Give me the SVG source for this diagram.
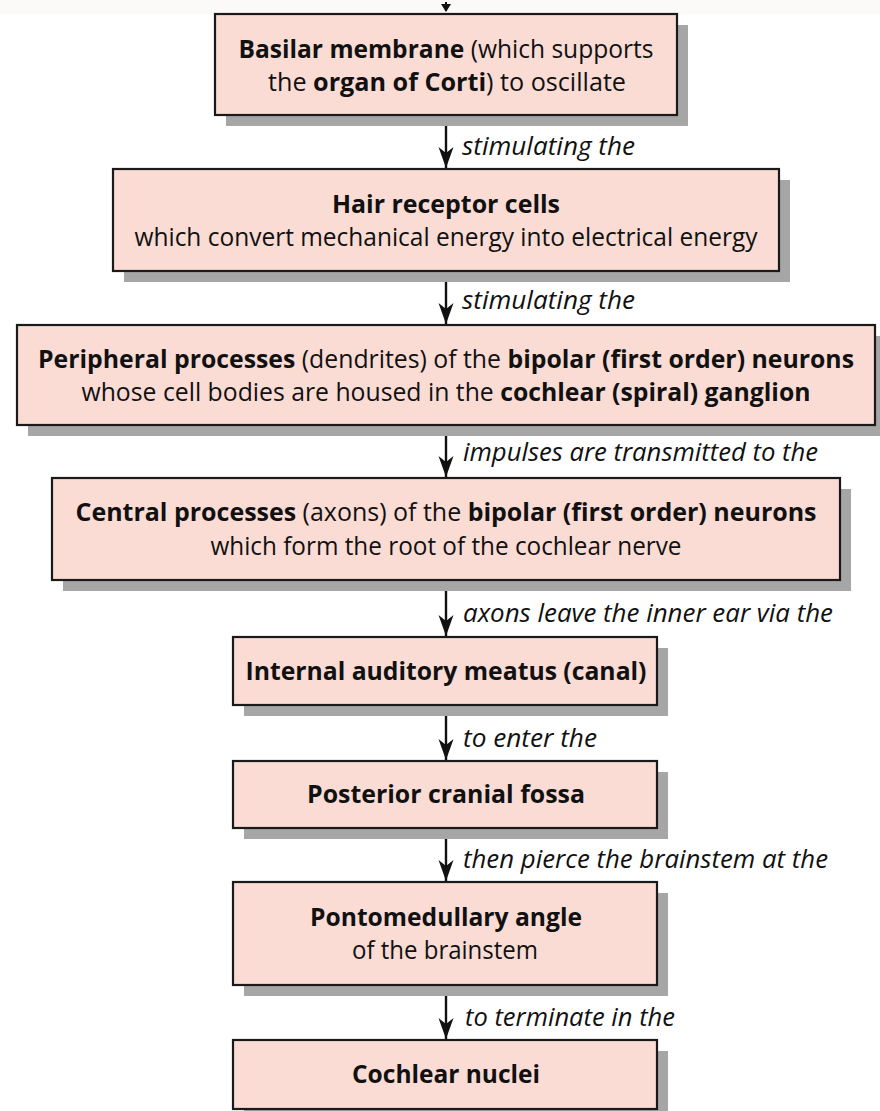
<svg xmlns="http://www.w3.org/2000/svg" width="880" height="1111" viewBox="0 0 880 1111">
  <style>
    .shadow { fill: #a6a6a6; }
    .box { fill: #fadcd5; stroke: #1a1a1a; stroke-width: 2.2; }
    .t { font-family: "Open Sans", Lato, sans-serif; font-size: 25.5px; fill: #111; text-anchor: middle; }
    .b { font-weight: bold; }
    .lbl { font-family: "Open Sans", Lato, sans-serif; font-size: 25px; font-style: italic; fill: #111; }
    .edge { stroke: #111; stroke-width: 2.4; fill: none; marker-end: url(#head); }
  </style>
  <defs>
    <marker id="head" viewBox="-21 -8 22 16" markerWidth="22" markerHeight="16" refX="0" refY="0" orient="auto" markerUnits="userSpaceOnUse">
      <path d="M0,0 L-21,-7.5 L-15,0 L-21,7.5 Z" fill="#111"/>
    </marker>
  </defs>

  <rect x="0" y="0" width="880" height="1111" fill="#ffffff"/>
  <rect x="0" y="0" width="880" height="14" fill="#fbfaf8"/>

  <!-- connectors -->
  <g id="connectors">
    <path d="M446,2 L446,11" stroke="#111" stroke-width="2"/>
    <path d="M441,4 L451,4 L446,12 Z" fill="#111"/>
    <path class="edge" d="M446,115 L446,168"/>
    <text class="lbl" x="462" y="155" textLength="173" lengthAdjust="spacingAndGlyphs">stimulating the</text>
    <path class="edge" d="M446,271 L446,324"/>
    <text class="lbl" x="462" y="309" textLength="173" lengthAdjust="spacingAndGlyphs">stimulating the</text>
    <path class="edge" d="M446,425 L446,477"/>
    <text class="lbl" x="463" y="461" textLength="355" lengthAdjust="spacingAndGlyphs">impulses are transmitted to the</text>
    <path class="edge" d="M446,580 L446,636"/>
    <text class="lbl" x="463" y="622" textLength="370" lengthAdjust="spacingAndGlyphs">axons leave the inner ear via the</text>
    <path class="edge" d="M446,705 L446,760"/>
    <text class="lbl" x="463" y="747" textLength="134" lengthAdjust="spacingAndGlyphs">to enter the</text>
    <path class="edge" d="M446,828 L446,881"/>
    <text class="lbl" x="463" y="868" textLength="365" lengthAdjust="spacingAndGlyphs">then pierce the brainstem at the</text>
    <path class="edge" d="M446,985 L446,1039"/>
    <text class="lbl" x="465" y="1026" textLength="210" lengthAdjust="spacingAndGlyphs">to terminate in the</text>
  </g>

  <!-- nodes -->
  <g id="basilar-membrane">
    <rect class="shadow" x="226" y="25" width="462" height="101"/>
    <rect class="box" x="215" y="14" width="462" height="101"/>
    <text class="t" x="446" y="58" textLength="415" lengthAdjust="spacingAndGlyphs"><tspan class="b">Basilar membrane</tspan> (which supports</text>
    <text class="t" x="447" y="91" textLength="358" lengthAdjust="spacingAndGlyphs">the <tspan class="b">organ of Corti</tspan>) to oscillate</text>
  </g>

  <g id="hair-cells">
    <rect class="shadow" x="124" y="180" width="666" height="102"/>
    <rect class="box" x="113" y="169" width="666" height="102"/>
    <text class="t b" x="446" y="213" textLength="228" lengthAdjust="spacingAndGlyphs">Hair receptor cells</text>
    <text class="t" x="446" y="246" textLength="623" lengthAdjust="spacingAndGlyphs">which convert mechanical energy into electrical energy</text>
  </g>

  <g id="peripheral-processes">
    <rect class="shadow" x="28" y="336" width="858" height="100"/>
    <rect class="box" x="17" y="325" width="858" height="100"/>
    <text class="t" x="446" y="368" textLength="816" lengthAdjust="spacingAndGlyphs"><tspan class="b">Peripheral processes</tspan> (dendrites) of the <tspan class="b">bipolar (first order) neurons</tspan></text>
    <text class="t" x="446" y="401" textLength="729" lengthAdjust="spacingAndGlyphs">whose cell bodies are housed in the <tspan class="b">cochlear (spiral) ganglion</tspan></text>
  </g>

  <g id="central-processes">
    <rect class="shadow" x="63" y="489" width="788" height="102"/>
    <rect class="box" x="52" y="478" width="788" height="102"/>
    <text class="t" x="446" y="521" textLength="741" lengthAdjust="spacingAndGlyphs"><tspan class="b">Central processes</tspan> (axons) of the <tspan class="b">bipolar (first order) neurons</tspan></text>
    <text class="t" x="446" y="555" textLength="471" lengthAdjust="spacingAndGlyphs">which form the root of the cochlear nerve</text>
  </g>

  <g id="internal-auditory-meatus">
    <rect class="shadow" x="244" y="648" width="424" height="68"/>
    <rect class="box" x="233" y="637" width="424" height="68"/>
    <text class="t b" x="446" y="680" textLength="401" lengthAdjust="spacingAndGlyphs">Internal auditory meatus (canal)</text>
  </g>

  <g id="posterior-cranial-fossa">
    <rect class="shadow" x="244" y="772" width="424" height="67"/>
    <rect class="box" x="233" y="761" width="424" height="67"/>
    <text class="t b" x="446" y="803" textLength="278" lengthAdjust="spacingAndGlyphs">Posterior cranial fossa</text>
  </g>

  <g id="pontomedullary-angle">
    <rect class="shadow" x="244" y="893" width="424" height="103"/>
    <rect class="box" x="233" y="882" width="424" height="103"/>
    <text class="t b" x="446" y="926" textLength="272" lengthAdjust="spacingAndGlyphs">Pontomedullary angle</text>
    <text class="t" x="445" y="959" textLength="186" lengthAdjust="spacingAndGlyphs">of the brainstem</text>
  </g>

  <g id="cochlear-nuclei">
    <rect class="shadow" x="244" y="1051" width="424" height="69"/>
    <rect class="box" x="233" y="1040" width="424" height="69"/>
    <text class="t b" x="446" y="1083" textLength="188" lengthAdjust="spacingAndGlyphs">Cochlear nuclei</text>
  </g>
</svg>
